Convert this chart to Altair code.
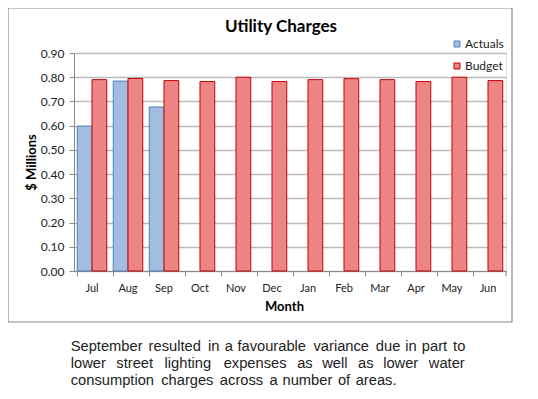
import altair as alt
import pandas as pd

# ---- data ----
months = ["Jul", "Aug", "Sep", "Oct", "Nov", "Dec", "Jan", "Feb", "Mar", "Apr", "May", "Jun"]
actuals = [0.598, 0.784, 0.677, None, None, None, None, None, None, None, None, None]
budget = [0.790, 0.795, 0.786, 0.782, 0.800, 0.782, 0.790, 0.794, 0.790, 0.782, 0.800, 0.786]
series = ["Actuals", "Budget"]
y_ticks = [0.0, 0.1, 0.2, 0.3, 0.4, 0.5, 0.6, 0.7, 0.8, 0.9]
title_text = "Utility Charges"
caption_lines = [
    "September resulted in a favourable variance due in part to",
    "lower street lighting expenses as well as lower water",
    "consumption charges across a number of areas.",
]
caption_justified = [True, True, False]

rows = []
for m, a, b in zip(months, actuals, budget):
    if a is not None:
        rows.append({"Month": m, "Series": "Actuals", "Value": a})
    rows.append({"Month": m, "Series": "Budget", "Value": b})
df = pd.DataFrame(rows)

W, H = 432, 218
FONT = "Lato"
TXT = "#222222"

fill_colors = ["#A2BDE0", "#EE8585"]
stroke_colors = ["#4F81BD", "#C00000"]

bars = alt.Chart(df).mark_bar(strokeWidth=1).encode(
    x=alt.X(
        "Month:N",
        sort=months,
        scale=alt.Scale(paddingInner=0.18, paddingOuter=0.09),
        axis=alt.Axis(
            title="Month",
            titleFont=FONT,
            titleFontSize=13,
            titleFontWeight="bold",
            titleColor="#000000",
            titlePadding=7,
            titleX=210,
            labelFont=FONT,
            labelFontSize=11,
            labelColor=TXT,
            labelAngle=0,
            labelPadding=6,
            bandPosition=0,
            tickSize=5,
            tickColor="#888888",
            domainColor="#888888",
            grid=False,
        ),
    ),
    xOffset=alt.XOffset("Series:N", sort=series, scale=alt.Scale(domain=series, paddingInner=0.0)),
    y=alt.Y(
        "Value:Q",
        scale=alt.Scale(domain=[0, 0.9], nice=False),
        axis=alt.Axis(
            title="$ Millions",
            titleFont=FONT,
            titleFontSize=13,
            titleFontWeight="bold",
            titleColor="#000000",
            titlePadding=2,
            values=y_ticks,
            format=".2f",
            labelFont=FONT,
            labelFontSize=12,
            labelColor=TXT,
            labelPadding=5,
            tickSize=5,
            tickColor="#888888",
            domainColor="#888888",
            gridColor="#BBBBBB",
            gridWidth=1.5,
        ),
    ),
    fill=alt.Fill(
        "Series:N",
        scale=alt.Scale(domain=series, range=fill_colors),
        legend=alt.Legend(
            title=None,
            orient="none",
            legendX=377,
            legendY=-15,
            symbolType="square",
            symbolSize=36,
            symbolStrokeWidth=1,
            labelFont=FONT,
            labelFontSize=12,
            labelColor=TXT,
            labelOffset=2,
            rowPadding=10,
            padding=0,
        ),
    ),
    stroke=alt.Stroke("Series:N", scale=alt.Scale(domain=series, range=stroke_colors), legend=None),
)

end_tick = alt.Chart(pd.DataFrame({"k": [0]})).mark_rule(color="#888888").encode(
    x=alt.value(W), y=alt.value(H), y2=alt.value(H + 5)
)

frame = alt.Chart(pd.DataFrame({"k": [0]})).mark_rect(
    fill="transparent", stroke="#8C8C8C", strokeWidth=1.2
).encode(
    x=alt.value(-66), x2=alt.value(438), y=alt.value(-45), y2=alt.value(269)
)

title = alt.Chart(pd.DataFrame({"t": [title_text]})).mark_text(
    font=FONT, fontSize=17, fontWeight="bold", color="#000000", align="center", baseline="middle"
).encode(x=alt.value(207), y=alt.value(-26), text="t:N")

# ---- caption layout: Arial-metric advances, slight letter spacing, justified lines ----
ADV = {
    " ": 278, "a": 556, "b": 556, "c": 500, "d": 556, "e": 556, "f": 278, "g": 556,
    "h": 556, "i": 222, "k": 500, "l": 222, "m": 833, "n": 556, "o": 556, "p": 556,
    "r": 333, "s": 500, "t": 278, "u": 556, "v": 500, "w": 722, "x": 500, "y": 500,
    "S": 667, ".": 278,
}
BASE = 13.0
LS = 1.1
X0 = 70.7 - 74
X1 = 465 - 74


def word_width(w):
    return sum(ADV.get(c, 556) * BASE / 1000 + LS for c in w)


cap_rows = []
line_y = [294, 311, 328]
for line, just, ly in zip(caption_lines, caption_justified, line_y):
    words = line.split(" ")
    widths = [word_width(w) for w in words]
    nat_space = ADV[" "] * BASE / 1000 + LS
    if just:
        space = (X1 - X0 + LS - sum(widths)) / (len(words) - 1)
    else:
        space = nat_space
    x = X0
    for w, wd in zip(words, widths):
        cap_rows.append({"t": w, "px": x, "py": ly})
        x += wd + space
cap_df = pd.DataFrame(cap_rows)

caption = alt.Chart(cap_df).mark_text(
    font="Liberation Sans", fontSize=14.7, color=TXT, align="left", baseline="middle"
).encode(x=alt.X("px:Q", scale=None), y=alt.Y("py:Q", scale=None), text="t:N")

chart = alt.layer(frame, bars, end_tick, title, caption).properties(
    width=W,
    height=H,
    autosize=alt.AutoSizeParams(type="none"),
    padding={"left": 66, "top": 45, "right": 22, "bottom": 120},
).configure_view(stroke=None).configure(background="white")

chart.save("out.html", embed_options={"renderer": "svg", "actions": False})
